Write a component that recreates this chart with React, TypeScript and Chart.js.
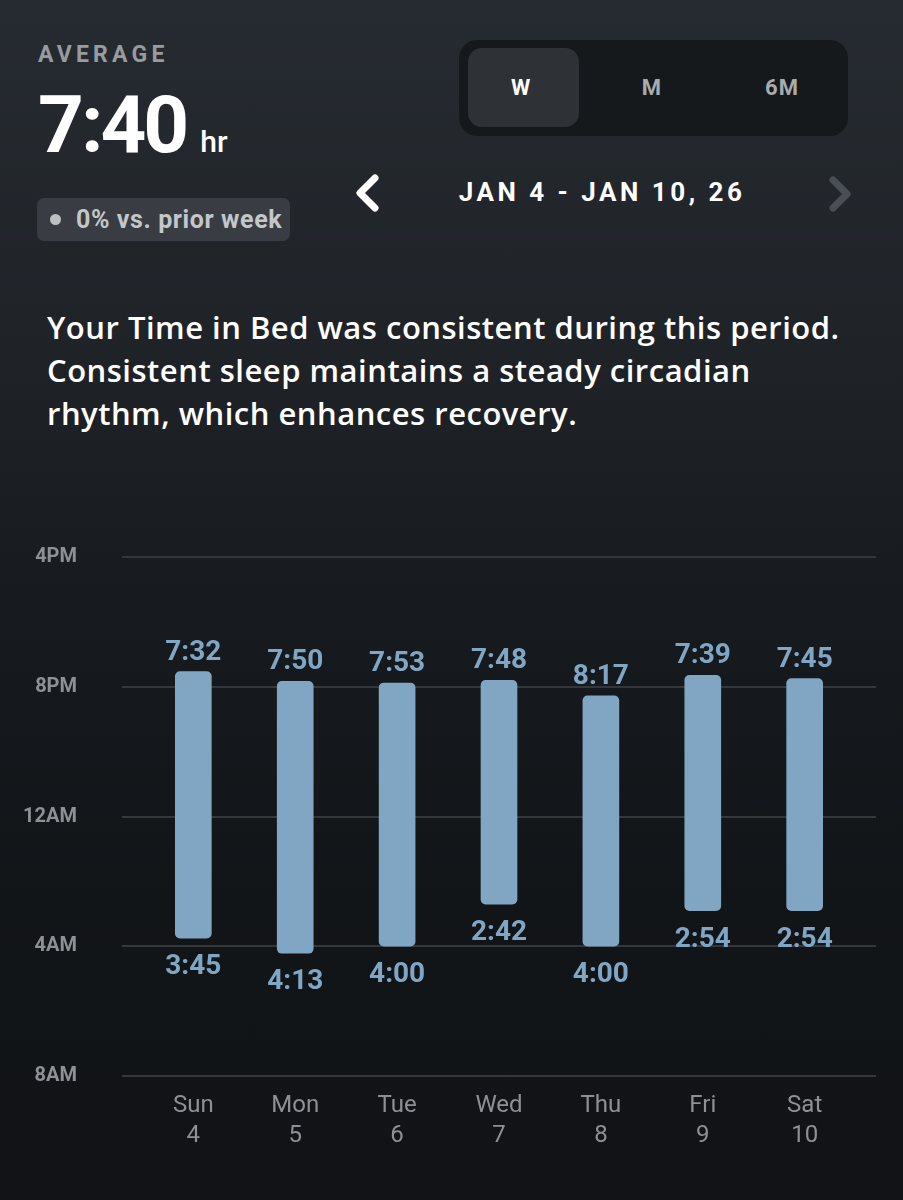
import React, { useEffect, useRef } from "react";
import { Chart, registerables } from "chart.js";

Chart.register(...registerables);

// ---- data ----
const days = ["Sun", "Mon", "Tue", "Wed", "Thu", "Fri", "Sat"];
const dates = ["4", "5", "6", "7", "8", "9", "10"];
// bedtime (PM) and wake time (AM) as shown on the chart
const bedTimes = ["7:32", "7:50", "7:53", "7:48", "8:17", "7:39", "7:45"];
const wakeTimes = ["3:45", "4:13", "4:00", "2:42", "4:00", "2:54", "2:54"];
// y axis: hours after 4PM
const yTickValues = [0, 4, 8, 12, 16];
const yTickLabels = ["4PM", "8PM", "12AM", "4AM", "8AM"];

function pmToAxis(t: string): number {
  const [h, m] = t.split(":").map(Number);
  return h - 4 + m / 60;
}
function amToAxis(t: string): number {
  const [h, m] = t.split(":").map(Number);
  return h + 8 + m / 60;
}

const BAR_COLOR = "#80a6c3";
const LABEL_COLOR = "#7fa6c5";
const AXIS_TEXT = "#8d9094";

const barLabels = {
  id: "barLabels",
  afterDatasetsDraw(chart: any) {
    const ctx = chart.ctx;
    const meta = chart.getDatasetMeta(0);
    ctx.save();
    ctx.font = "bold 28px Roboto";
    ctx.fillStyle = LABEL_COLOR;
    ctx.textAlign = "center";
    ctx.textBaseline = "alphabetic";
    meta.data.forEach((el: any, i: number) => {
      const p = el.getProps(["x", "y", "base"], true);
      const top = Math.min(p.y, p.base);
      const bottom = Math.max(p.y, p.base);
      ctx.fillText(bedTimes[i], p.x, top - 12);
      ctx.fillText(wakeTimes[i], p.x, bottom + 36);
    });
    ctx.restore();
  },
};

function SleepChart() {
  const ref = useRef<HTMLCanvasElement | null>(null);
  useEffect(() => {
    if (!ref.current) return;
    const chart = new Chart(ref.current, {
      type: "bar",
      data: {
        datasets: [
          {
            data: days.map((_, i) => ({
              x: i,
              y: [pmToAxis(bedTimes[i]), amToAxis(wakeTimes[i])],
            })) as any,
            backgroundColor: BAR_COLOR,
            borderRadius: 5,
            borderSkipped: false,
            barThickness: 36,
          },
        ],
      },
      options: {
        animation: false,
        responsive: false,
        maintainAspectRatio: false,
        layout: { padding: { top: 56, right: 27, left: 0, bottom: 0 } },
        plugins: { legend: { display: false }, tooltip: { enabled: false } },
        scales: {
          x: {
            type: "linear",
            offset: false,
            min: -0.7,
            max: 6.7,
            grid: { display: false },
            border: { display: false },
            afterBuildTicks: (s: any) => {
              s.ticks = days.map((_, i) => ({ value: i }));
            },
            afterFit: (s: any) => {
              s.height = 124;
            },
            ticks: {
              autoSkip: false,
              maxRotation: 0,
              padding: 7,
              color: AXIS_TEXT,
              font: { family: "Roboto", size: 24, lineHeight: 1.25 },
              callback: (v: any) => [days[v], dates[v]],
            },
          },
          y: {
            type: "linear",
            reverse: true,
            min: 0,
            max: 16,
            afterBuildTicks: (s: any) => {
              s.ticks = yTickValues.map((v) => ({ value: v }));
            },
            afterFit: (s: any) => {
              s.width = 122;
            },
            grid: { color: "#34383d", lineWidth: 2, drawTicks: false },
            border: { display: false },
            ticks: {
              padding: 45,
              color: AXIS_TEXT,
              font: { family: "Roboto", size: 20, weight: "bold" },
              callback: (v: any) => yTickLabels[yTickValues.indexOf(v)],
            },
          },
        },
      },
      plugins: [barLabels],
    } as any);
    return () => chart.destroy();
  }, []);
  return (
    <canvas
      ref={ref}
      width={903}
      height={700}
      style={{ position: "absolute", left: 0, top: 500, width: 903, height: 700 }}
    />
  );
}

export default function App() {
  const abs = (o: React.CSSProperties): React.CSSProperties => ({ position: "absolute", ...o });
  return (
    <div
      style={{
        position: "absolute",
        left: 0,
        top: 0,
        width: 903,
        height: 1200,
        overflow: "hidden",
        background:
          "linear-gradient(180deg, #262b31 0%, #1f2328 30%, #171a1e 50%, #121518 75%, #111316 100%)",
        fontFamily: "Roboto, sans-serif",
      }}
    >
      <div
        style={abs({
          left: 38,
          top: 43,
          fontSize: 23,
          lineHeight: 1,
          fontWeight: 700,
          letterSpacing: 4.2,
          color: "#989b9f",
        })}
      >
        AVERAGE
      </div>
      <div style={abs({ left: 38, top: 85, display: "flex", alignItems: "baseline", color: "#fff", lineHeight: 1 })}>
        <span style={{ fontSize: 80, fontWeight: 700, letterSpacing: -3 }}>7:40</span>
        <span style={{ fontSize: 30, fontWeight: 500, marginLeft: 14 }}>hr</span>
      </div>
      <div
        style={abs({
          left: 37,
          top: 198,
          width: 253,
          height: 43,
          borderRadius: 7,
          background: "#393d43",
        })}
      >
        <div style={abs({ left: 13, top: 16, width: 11, height: 11, borderRadius: 6, background: "#bdc0c3" })} />
        <div
          style={abs({
            left: 39,
            top: 8,
            fontSize: 25,
            lineHeight: "28px",
            fontWeight: 700,
            letterSpacing: 0.6,
            color: "#c4c7ca",
            whiteSpace: "nowrap",
          })}
        >
          0% vs. prior week
        </div>
      </div>

      <div style={abs({ left: 459, top: 40, width: 389, height: 96, borderRadius: 18, background: "#16191c" })} />
      <div style={abs({ left: 468, top: 48, width: 111, height: 79, borderRadius: 14, background: "#2e3237" })} />
      {[
        ["W", 521, "#ffffff"],
        ["M", 652, "#a9acaf"],
        ["6M", 782, "#a9acaf"],
      ].map(([t, x, c]) => (
        <div
          key={t as string}
          style={abs({
            left: (x as number) - 40,
            width: 80,
            top: 76,
            textAlign: "center",
            fontSize: 22,
            lineHeight: "24px",
            fontWeight: 700,
            letterSpacing: 1,
            color: c as string,
          })}
        >
          {t}
        </div>
      ))}

      <svg width={903} height={260} style={abs({ left: 0, top: 0 })}>
        <polyline
          points="375,178 360,193 375,208"
          fill="none"
          stroke="#ffffff"
          strokeWidth={7}
          strokeLinecap="round"
          strokeLinejoin="round"
        />
        <polyline
          points="833,180 847,194 833,208"
          fill="none"
          stroke="#4a4f55"
          strokeWidth={7}
          strokeLinecap="round"
          strokeLinejoin="round"
        />
      </svg>
      <div
        style={abs({
          left: 402,
          width: 400,
          top: 178,
          textAlign: "center",
          fontSize: 26,
          lineHeight: "28px",
          fontWeight: 700,
          letterSpacing: 3.5,
          color: "#ffffff",
          whiteSpace: "nowrap",
        })}
      >
        JAN 4 - JAN 10, 26
      </div>

      <div
        style={abs({
          left: 47,
          top: 306,
          fontFamily: "'Open Sans', sans-serif",
          fontSize: 31,
          lineHeight: "43px",
          fontWeight: 600,
          letterSpacing: 0.5,
          color: "#ffffff",
          whiteSpace: "nowrap",
        })}
      >
        Your Time in Bed was consistent during this period.
        <br />
        Consistent sleep maintains a steady circadian
        <br />
        rhythm, which enhances recovery.
      </div>

      <SleepChart />
    </div>
  );
}
